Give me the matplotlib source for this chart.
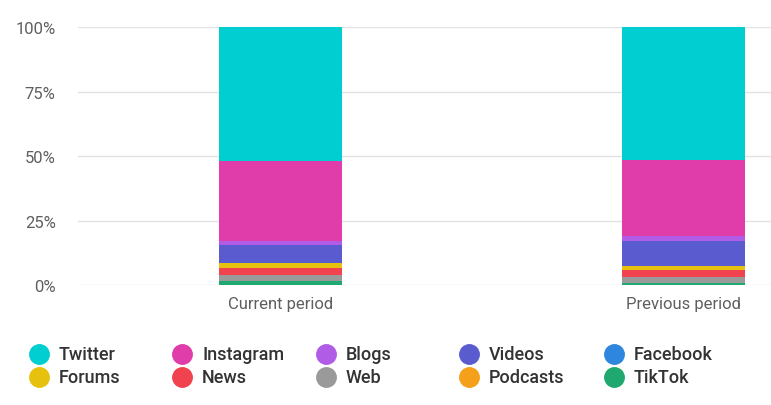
import matplotlib.pyplot as plt
from matplotlib.lines import Line2D

plt.rcParams['font.family'] = ['Roboto', 'DejaVu Sans']

# Data: shares (%) per source, stacked bottom to top
periods = ['Current period', 'Previous period']
sources = ['TikTok', 'Podcasts', 'Web', 'News', 'Forums',
           'Facebook', 'Videos', 'Blogs', 'Instagram', 'Twitter']
current = [1.5, 0.1, 2.4, 2.7, 1.8, 0.3, 6.7, 1.6, 31.2, 51.7]
previous = [0.8, 0.1, 2.3, 2.9, 1.3, 0.2, 9.7, 1.9, 29.5, 51.3]
colors = ['#1fa971', '#f5a01a', '#9a9a9a', '#f0434f', '#e6c20f',
          '#2e86de', '#5b5bd0', '#b05ce6', '#e03caa', '#00ced1']

legend_order = ['Twitter', 'Instagram', 'Blogs', 'Videos', 'Facebook',
                'Forums', 'News', 'Web', 'Podcasts', 'TikTok']

fig = plt.figure(figsize=(7.71, 4.06), dpi=100)
ax = fig.add_axes([0.101, 0.295, 0.899, 0.635])

# stacked bars
bottom = [0, 0]
for i, src in enumerate(sources):
    vals = [current[i], previous[i]]
    ax.bar([0, 1], vals, bottom=bottom, width=0.305, color=colors[i], zorder=3)
    bottom = [bottom[0] + vals[0], bottom[1] + vals[1]]

ax.set_xlim(-0.502, 1.216)
ax.set_ylim(0, 100)
ax.set_yticks([0, 25, 50, 75, 100])
ax.set_yticklabels(['0%', '25%', '50%', '75%', '100%'])
ax.set_xticks([0, 1])
ax.set_xticklabels(periods)
ax.tick_params(axis='both', length=0, labelsize=12, labelcolor='#5f5f5f')
ax.tick_params(axis='y', pad=16)
ax.tick_params(axis='x', pad=8)
ax.grid(axis='y', color='#e3e3e3', linewidth=1, zorder=0)
for s in ax.spines.values():
    s.set_visible(False)

# legend drawn by hand, two rows of five
text_x = [59, 202, 346, 489, 634]
row_y = [355, 378]
for k, name in enumerate(legend_order):
    r, c = divmod(k, 5)
    x = text_x[c] / 771
    y = 1 - row_y[r] / 406
    color = colors[sources.index(name)]
    fig.add_artist(Line2D([x - 20 / 771], [y], marker='o', markersize=14,
                          color=color, linestyle='none',
                          transform=fig.transFigure))
    fig.text(x, y, name, fontsize=13, fontweight='medium',
             color='#333333', va='center', ha='left')

fig.savefig('out.png', dpi=100)
